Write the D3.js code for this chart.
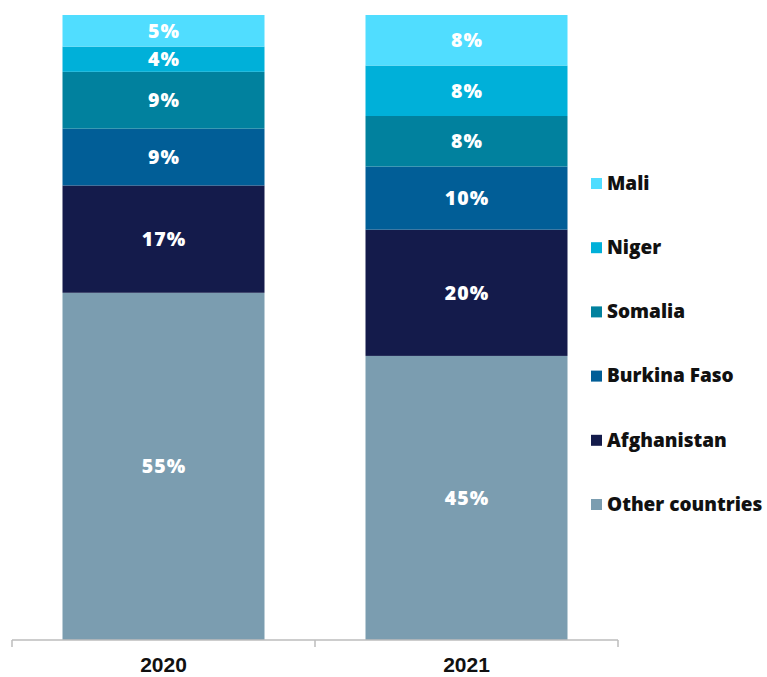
<!DOCTYPE html>
<html lang="en">
<head>
    <meta charset="UTF-8">
    <title>Shares by country</title>
    <style>
        body { margin: 0; background: #fff; }
    </style>
</head>
<script src="https://d3js.org/d3.v7.min.js"></script>
<body>
    <div id="chart"></div>
</body>
<script>
const years = ["2020", "2021"]
const countries = ["Other countries", "Afghanistan", "Burkina Faso", "Somalia", "Niger", "Mali"]
const share2020 = [55, 17, 9, 9, 4, 5]
const share2021 = [45, 20, 10, 8, 8, 8]
const colors = ["#7b9db0", "#141b4b", "#015e97", "#01819e", "#00b0d9", "#50ddff"]

const width = 767
const height = 677

const rows = years.map((y, j) => {
    const vals = [share2020, share2021][j]
    const row = {year: y}
    countries.forEach((c, i) => row[c] = vals[i])
    return row
})
const stack = d3.stack().keys(countries)(rows)

const x = d3.scaleBand()
    .domain(years)
    .range([12, 618])
    .paddingInner(1 / 3)
    .paddingOuter(1 / 6)
const y = d3.scaleLinear()
    .domain([0, d3.max(stack[stack.length - 1], d => d[1])])
    .range([640, 15])
const color = d3.scaleOrdinal().domain(countries).range(colors)

const svg = d3.select("#chart")
    .append("svg")
      .attr("width", width)
      .attr("height", height)

const layers = svg.append("g")
    .selectAll("g")
    .data(stack)
    .join("g")
      .attr("fill", d => color(d.key))

layers.selectAll("rect")
    .data(d => d)
    .join("rect")
      .attr("x", d => x(d.data.year))
      .attr("y", d => y(d[1]))
      .attr("width", x.bandwidth())
      .attr("height", d => y(d[0]) - y(d[1]))

layers.selectAll("text")
    .data(d => d)
    .join("text")
      .attr("x", d => x(d.data.year) + x.bandwidth() / 2 + 0.5)
      .attr("y", d => (y(d[0]) + y(d[1])) / 2)
      .attr("dy", "0.36em")
      .attr("text-anchor", "middle")
      .attr("fill", "#fff")
      .style("font-family", "'Open Sans', 'Noto Sans', sans-serif")
      .style("font-weight", "800")
      .style("font-size", "19.5px")
      .style("letter-spacing", "1px")
      .text(d => (d[1] - d[0]) + "%")

// axis with ticks at band edges
const axis = svg.append("g").attr("transform", "translate(0,640)")
axis.append("line")
    .attr("x1", 12).attr("x2", 618)
    .attr("stroke", "#bdbdbd").attr("stroke-width", 1.5)
const edges = [x.range()[0]].concat(years.map(yr => x(yr) + x.bandwidth() + x.step() * x.paddingInner() / 2))
edges[edges.length - 1] = x.range()[1]
axis.selectAll(".tick")
    .data(edges)
    .join("line")
      .attr("x1", d => d).attr("x2", d => d)
      .attr("y1", 0).attr("y2", 7)
      .attr("stroke", "#bdbdbd").attr("stroke-width", 1.5)
axis.selectAll("text")
    .data(years)
    .join("text")
      .attr("x", d => x(d) + x.bandwidth() / 2)
      .attr("y", 32)
      .attr("text-anchor", "middle")
      .attr("fill", "#111")
      .style("font-family", "'Liberation Sans Narrow', 'Arial Narrow', 'Liberation Sans', sans-serif")
      .style("font-weight", "bold")
      .style("font-size", "21px")
      .text(d => d)

// legend, top entry is last series
const legendItems = countries.slice().reverse()
const legend = svg.append("g")
    .selectAll("g")
    .data(legendItems)
    .join("g")
      .attr("transform", (d, i) => `translate(591,${183 + i * 64.2})`)
legend.append("rect")
    .attr("x", 0).attr("y", -5)
    .attr("width", 11).attr("height", 11)
    .attr("fill", d => color(d))
legend.append("text")
    .attr("x", 16)
    .attr("dy", "0.36em")
    .attr("fill", "#111")
    .style("font-family", "'Open Sans', 'Noto Sans', sans-serif")
    .style("font-weight", "800")
    .style("font-size", "19px")
    .text(d => d)
</script>
</html>
